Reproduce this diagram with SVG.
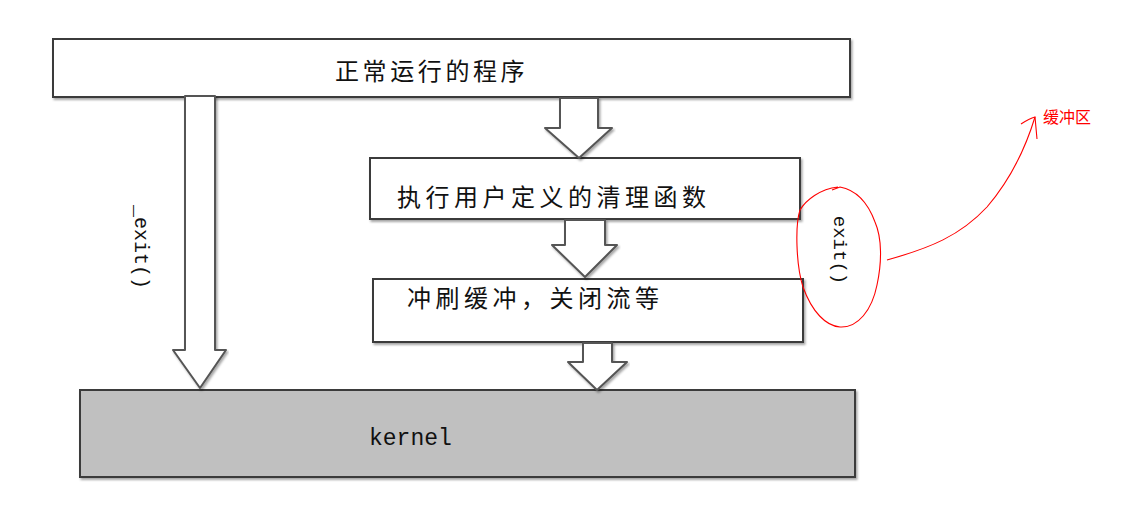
<svg xmlns="http://www.w3.org/2000/svg" width="1137" height="509" viewBox="0 0 1137 509">
<defs>
<filter id="sh" x="-5%" y="-5%" width="110%" height="120%">
<feDropShadow dx="1.5" dy="2" stdDeviation="1.2" flood-color="#000" flood-opacity="0.35"/>
</filter>
</defs>
<style>
.box{fill:#fff;stroke:#3a3a3a;stroke-width:2;filter:url(#sh)}
.kbox{fill:#c0c0c0;stroke:#3a3a3a;stroke-width:2;filter:url(#sh)}
.arr{fill:#fff;stroke:#555;stroke-width:2;stroke-linejoin:round;filter:url(#sh)}
.cjk{font-family:"Noto Sans CJK SC","Noto Sans",sans-serif;fill:#111}
.mono{font-family:"Liberation Mono","DejaVu Sans Mono",monospace;fill:#111}
.red{fill:none;stroke:#ff0000;stroke-width:1.1}
</style>
<rect width="1137" height="509" fill="#fff"/>
<g id="node-main">
<rect class="box" x="53" y="39" width="797" height="58"/>
<text class="cjk" x="335" y="80" font-size="24" letter-spacing="3.6">正常运行的程序</text>
</g>
<g id="node-cleanup">
<rect class="box" x="370" y="158" width="430" height="61"/>
<text class="cjk" x="397" y="206" font-size="24" letter-spacing="4.5">执行用户定义的清理函数</text>
</g>
<g id="node-flush">
<rect class="box" x="373" y="279" width="430" height="63"/>
<text class="cjk" x="407" y="307" font-size="24" letter-spacing="4.5">冲刷缓冲，关闭流等</text>
</g>
<g id="node-kernel">
<rect class="kbox" x="80" y="390" width="775" height="87"/>
<text class="mono" x="369" y="445" font-size="23">kernel</text>
</g>
<g id="connectors">
<polygon class="arr" points="185,96 215,96 215,350 226,350 200,388 173,350 185,350"/>
<polygon class="arr" points="560,98 598,98 598,128 612,128 579,158 545,128 560,128"/>
<polygon class="arr" points="565,220 605,220 605,245 617,245 585,277 552,245 565,245"/>
<polygon class="arr" points="583,343 612,343 612,362 627,362 597,390 568,362 583,362"/>
</g>
<g id="label-_exit">
<text class="mono" x="140" y="247" font-size="20" text-anchor="middle" transform="rotate(90 140 247)" dominant-baseline="middle">_exit()</text>
</g>
<g id="label-exit">
<text class="mono" x="839" y="250" font-size="19" text-anchor="middle" transform="rotate(90 839 250)" dominant-baseline="middle">exit()</text>
</g>
<g id="annotation">
<path class="red" d="M838,187 C820,189 806,200 800,210 C795,225 796,265 803,287 C812,312 826,326 840,327 C858,328 872,310 877,285 C882,262 882,238 875,222 C868,203 856,190 840,187 L832,190"/>
<path class="red" d="M887,260 C930,248 960,236 987,207 C1010,180 1025,150 1035,117"/>
<path class="red" d="M1021,124 C1027,120 1031,118 1035,117 L1037,139"/>
<text x="1043" y="123" font-size="16" font-family="Noto Sans CJK SC, sans-serif" fill="#ff0000">缓冲区</text>
</g>
</svg>
